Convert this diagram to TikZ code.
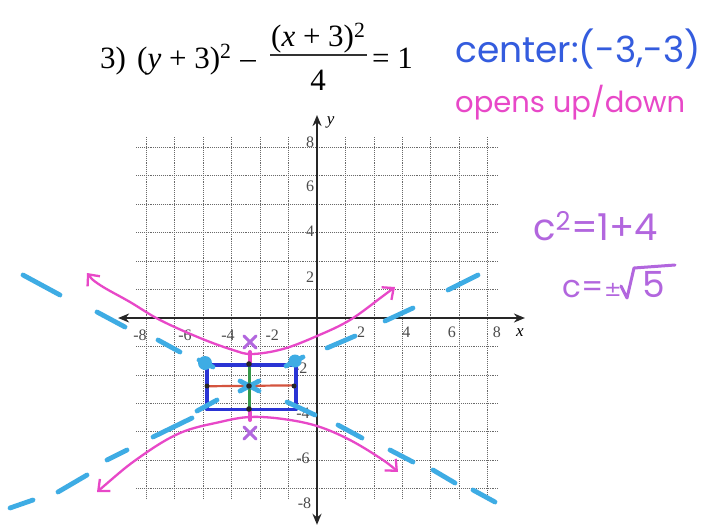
\documentclass[tikz,border=0pt]{standalone}
\usepackage{fontspec}
\usetikzlibrary{arrows.meta}
\setmainfont{Liberation Serif}
\newfontfamily\handfont{Poppins}
\newfontfamily\handsym{DejaVu Sans}
\definecolor{penblue}{RGB}{52,92,222}
\definecolor{penmag}{RGB}{232,72,200}
\definecolor{penpurp}{RGB}{178,102,222}
\definecolor{rectblue}{RGB}{42,52,212}
\definecolor{pencyan}{RGB}{62,172,228}
\definecolor{penred}{RGB}{212,84,62}
\definecolor{pengreen}{RGB}{52,152,72}
\definecolor{gridgray}{RGB}{105,105,105}
\definecolor{labgray}{RGB}{75,75,75}
\newcommand\eqfnt{\fontsize{31}{31}\selectfont}
\tikzset{
  gridline/.style={gridgray, line width=0.75pt, dash pattern=on 1pt off 0.9pt},
  axisline/.style={black!85, line width=1.6pt, {Stealth[length=11pt,width=9pt]}-{Stealth[length=11pt,width=9pt]}},
  ticklab/.style={font=\fontsize{16}{16}\selectfont, text=labgray, inner sep=0pt},
  axlab/.style={font=\fontsize{17}{17}\selectfont\itshape, inner sep=0pt},
  eqtext/.style={font=\eqfnt, inner sep=0pt, anchor=base west},
  asym/.style={pencyan, line width=4.8pt, line cap=round},
  blob/.style={fill=pencyan},
  hyp/.style={penmag, line width=2.3pt, line cap=round,
    {Straight Barb[length=9pt,width=16pt,line width=2.3pt]}-{Straight Barb[length=9pt,width=16pt,line width=2.3pt]}},
  focus/.style={penpurp, line width=3pt, line cap=round},
  vmark/.style={penmag, line width=4pt, line cap=round},
  hand/.style={inner sep=0pt, anchor=base west},
}
\begin{document}
\begin{tikzpicture}[x=1pt,y=-1pt]
\useasboundingbox (0,0) rectangle (704,527);
\fill[white] (0,0) rectangle (704,527);

% ---------- graph in graph units ----------
\begin{scope}[shift={(317,318)}, x=22.6pt, y=22.6pt]
  \draw[gridline] (-8,-8) grid (8,8);
  \draw[axisline] (-8.8,0) -- (9.2,0);
  \draw[axisline] (0,-9.15) -- (0,8.98);
  \node[axlab] (ylab) at (0.6,8.67) {y};
  \node[axlab] (xlab) at (8.98,-0.66) {x};
  % tick labels
  \node[ticklab] (tx1) at (-7.83,-0.75) {-8};
  \node[ticklab] (tx2) at (-5.84,-0.75) {-6};
  \node[ticklab] (tx3) at (-3.94,-0.75) {-4};
  \node[ticklab] (tx4) at (-1.98,-0.75) {-2};
  \node[ticklab] (tx5) at (1.95,-0.62) {2};
  \node[ticklab] (tx6) at (3.95,-0.62) {4};
  \node[ticklab] (tx7) at (5.97,-0.62) {6};
  \node[ticklab] (tx8) at (7.96,-0.62) {8};
  \node[ticklab] (ty1) at (-0.3,7.79) {8};
  \node[ticklab] (ty2) at (-0.3,5.84) {6};
  \node[ticklab] (ty3) at (-0.3,3.85) {4};
  \node[ticklab] (ty4) at (-0.3,1.8) {2};
  \node[ticklab] (ty5) at (-0.72,-2.2) {-2};
  \node[ticklab] (ty6) at (-0.62,-4.2) {-4};
  \node[ticklab] (ty7) at (-0.62,-6.19) {-6};
  \node[ticklab] (ty8) at (-0.55,-8.19) {-8};
  % red and green axes of the box
  \draw[penred, line width=2.2pt] (-4.88,-3.02) -- (-1,-2.98);
  \draw[pengreen, line width=3.2pt] (-3,-2.05) -- (-3,-4.02);
  % box
  \draw[rectblue, line width=3.6pt, line join=round] (-4.88,-2.07) rectangle (-0.92,-4.05);
\end{scope}

% ---------- asymptotes (dashed by hand) ----------
\draw[asym] (10,508) -- (33,500);
\draw[asym] (58,492) -- (87,475);
\draw[asym] (107,460) -- (127,450);
\draw[asym] (153,437) -- (192,418);
\draw[asym] (197,411) -- (217,400);
\draw[asym] (240,391) -- (259,381);
\draw[asym] (286,366) -- (303,357);
\draw[asym] (327,348) -- (355,336);
\draw[asym] (385,321) -- (413,308);
\draw[asym] (448,290) -- (478,275);

\draw[asym] (23,275) -- (60,295);
\draw[asym] (97,312) -- (125,327);
\draw[asym] (158,340) -- (180,352);
\draw[asym] (199,360) -- (213,367);
\draw[asym] (240,381) -- (259,391);
\draw[asym] (287,402) -- (315,415);
\draw[asym] (338,425) -- (362,438);
\draw[asym] (390,450) -- (413,462);
\draw[asym] (433,470) -- (455,483);
\draw[asym] (473,490) -- (495,502);
\fill[blob] (205,363) circle (7);
\fill[blob] (295,361) circle (6.5);

% ---------- hyperbola ----------
\draw[hyp] plot[smooth, tension=0.6] coordinates {(87,273) (100,285) (130,302) (160,320) (200,338) (233,350) (252,354) (283,349) (317,336) (350,320) (383,296) (395,287)};
\draw[hyp] plot[smooth, tension=0.6] coordinates {(97,492) (140,457) (180,433) (220,422) (250,417) (283,419) (317,426) (350,440) (383,460) (398,472)};

% vertices
\draw[vmark] (250,352) -- (250,362);
\draw[vmark] (250,412) -- (250,420);
% foci
\draw[focus] (244,336) -- (256,348) (256,336) -- (244,348);
\draw[focus] (244,427) -- (256,439) (256,427) -- (244,439);
% dots
\fill[black!85] (249,364) circle (2.8);
\fill[black!85] (249,386) circle (2.8);
\fill[black!85] (249,409) circle (2.8);
\fill[black!85] (294,386) circle (2.5);
\fill[black!85] (207,386) circle (2.5);

% ---------- equation ----------
\node[eqtext] (e1) at (100,68) {3)};
\node[eqtext] (e2) at (137,68) {(\textit{y} + 3)\textsuperscript{2}};
\node[eqtext, anchor=base] (e3) at (248,68) {–};
\node[eqtext] (e4) at (271,47) {(\textit{x} + 3)\textsuperscript{2}};
\draw[line width=1.1pt, black!80] (270,55) -- (367,55);
\node[eqtext, anchor=base] (e5) at (318,90) {4};
\node[eqtext] (e6) at (372,68) {= 1};

% ---------- handwriting ----------
\node[hand, text=penblue, font=\handfont\fontsize{36}{36}\selectfont] (cen) at (455,63) {center:(-3,-3)};
\node[hand, text=penmag, font=\handfont\fontsize{29}{29}\selectfont] (opn) at (455,112) {opens up/down};
\node[hand, text=penpurp, font=\handfont\fontsize{37}{37}\selectfont] (csq) at (533,240) {c\textsuperscript{2}=1+4};
\node[hand, text=penpurp, font=\handfont\fontsize{31}{31}\selectfont] (cpm) at (562,297) {c=};
\node[hand, text=penpurp, font=\handsym\fontsize{21}{21}\selectfont] (cpl) at (604,296) {±};
\draw[penpurp, line width=3pt, line cap=round, line join=round] (621,286) -- (627,298) -- (634,268) -- (675,265);
\node[hand, text=penpurp, font=\handfont\fontsize{36}{36}\selectfont] (cfv) at (642,297) {5};
\end{tikzpicture}
\end{document}
